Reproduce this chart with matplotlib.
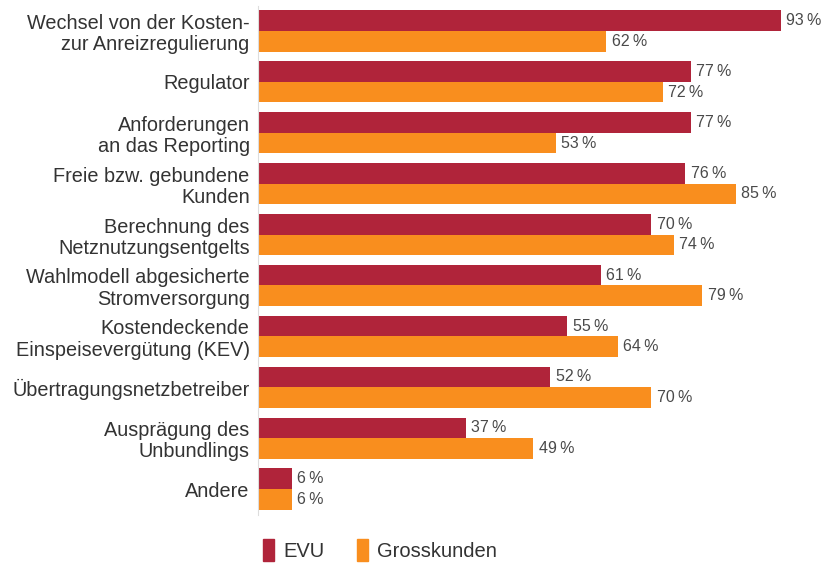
import matplotlib
matplotlib.use("Agg")
import matplotlib.pyplot as plt
from matplotlib.patches import Patch
import numpy as np

categories = [
    "Wechsel von der Kosten-\nzur Anreizregulierung",
    "Regulator",
    "Anforderungen\nan das Reporting",
    "Freie bzw. gebundene\nKunden",
    "Berechnung des\nNetznutzungsentgelts",
    "Wahlmodell abgesicherte\nStromversorgung",
    "Kostendeckende\nEinspeisevergütung (KEV)",
    "Übertragungsnetzbetreiber",
    "Ausprägung des\nUnbundlings",
    "Andere",
]
evu = [93, 77, 77, 76, 70, 61, 55, 52, 37, 6]
grosskunden = [62, 72, 53, 85, 74, 79, 64, 70, 49, 6]
series_names = ["EVU", "Grosskunden"]

RED = "#B0243A"
ORANGE = "#F98E1E"
TXT = "#333333"

plt.rcParams["font.family"] = ["Liberation Sans", "DejaVu Sans"]

fig = plt.figure(figsize=(8.33, 5.65), dpi=100)
ax = fig.add_axes([258/833, 1-514.5/565, (820-258)/833, (514.5-5.5)/565])

y = np.arange(len(categories))
h = 0.405
ax.barh(y - h/2, evu, height=h, color=RED)
ax.barh(y + h/2, grosskunden, height=h, color=ORANGE)

for yi, v in zip(y, evu):
    ax.annotate(f"{v}\u2009%", (v, yi - h/2), xytext=(4, 0), textcoords="offset points",
                va="center", ha="left", fontsize=11.5, color="#4a4a4a")
for yi, v in zip(y, grosskunden):
    ax.annotate(f"{v}\u2009%", (v, yi + h/2), xytext=(4, 0), textcoords="offset points",
                va="center", ha="left", fontsize=11.5, color="#4a4a4a")

ax.set_xlim(0, 100)
ax.set_ylim(len(categories) - 0.5, -0.5)
ax.set_yticks(y)
ax.set_yticklabels(categories, fontsize=14.3, color=TXT, linespacing=1.15)
ax.tick_params(axis="y", length=0, pad=6)
ax.set_xticks([])
for s in ["top", "right", "bottom"]:
    ax.spines[s].set_visible(False)
ax.spines["left"].set_color("#dddddd")
ax.spines["left"].set_linewidth(0.8)

handles = [Patch(color=RED), Patch(color=ORANGE)]
fig.legend(handles, series_names, loc="center left", bbox_to_anchor=(245/833, 1-550/565),
           ncol=2, frameon=False, fontsize=14.5, handlelength=0.55, handleheight=1.3,
           columnspacing=1.6, handletextpad=0.45, labelcolor=TXT)

fig.savefig("out.png", dpi=100)
